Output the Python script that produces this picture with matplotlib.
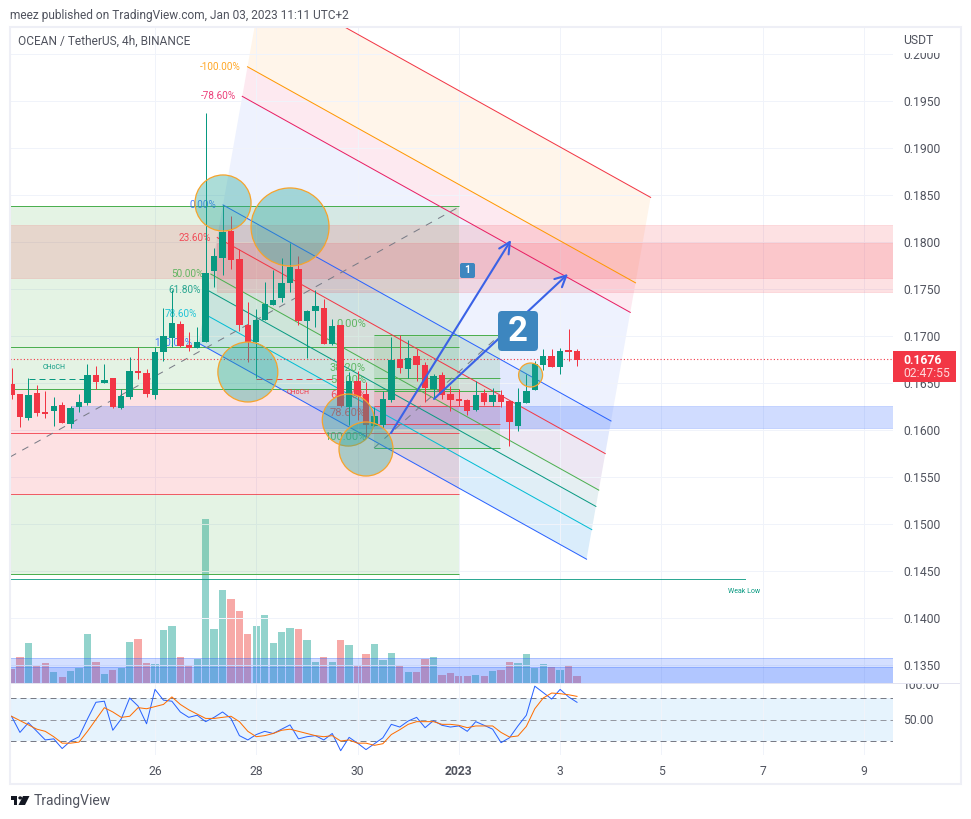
import matplotlib
matplotlib.use("Agg")
import matplotlib.pyplot as plt
from matplotlib.patches import Rectangle, Ellipse, Polygon, Circle, FancyBboxPatch
from matplotlib.transforms import IdentityTransform

# candles, 4h bars, bar 17 is Dec 26 00:00
opens = [.16489,.16383,.16124,.16393,.16188,.16206,.16266,.16068,.16248,.16291,.16585,.16504,.16553,.16238,.16355,.16628,.16606,
         .16376,.16833,.16979,.17128,.16904,.16876,.16936,.17692,.17830,.18117,.17819,.17117,.16936,.17170,.17330,.17404,.17564,
         .17713,.17160,.17266,.17298,.16915,.17117,.16248,.16521,.16383,.16043,.16053,.16319,.16755,.16649,.16787,.16692,.16436,
         .16585,.16383,.16330,.16319,.16213,.16394,.16298,.16372,.16309,.16043,.16287,.16426,.16692,.16787,.16670,.16851,.16840]
closes = [.16372,.16142,.16372,.16185,.16174,.16256,.16078,.16234,.16298,.16585,.16514,.16532,.16248,.16362,.16628,.16610,.16387,
          .16830,.17000,.17138,.16894,.16872,.16936,.17670,.17851,.18110,.17812,.17117,.16936,.17174,.17341,.17383,.17564,.17734,
          .17160,.17266,.17319,.16915,.17106,.16255,.16525,.16362,.16050,.16149,.16330,.16745,.16660,.16766,.16692,.16447,.16574,
          .16372,.16319,.16309,.16202,.16372,.16298,.16372,.16298,.16085,.16298,.16415,.16702,.16787,.16670,.16840,.16830,.16745]
highs = [.16656,.16383,.16549,.16478,.16415,.16348,.16298,.16256,.16383,.16702,.16681,.16702,.16553,.16433,.16777,.16883,.16649,
         .16883,.17298,.17490,.17160,.17043,.17096,.19372,.17936,.18394,.18277,.17926,.17362,.17287,.17575,.17702,.17830,.17989,
         .17851,.17277,.17490,.17394,.17177,.17117,.16621,.16624,.16514,.16248,.16415,.16993,.17011,.16957,.16862,.16723,.16596,
         .16617,.16468,.16436,.16330,.16521,.16436,.16447,.16426,.16319,.16447,.16596,.16734,.16862,.16862,.16872,.17074,.16862]
lows = [.16330,.16036,.16107,.16153,.16131,.16046,.16071,.16025,.16195,.16270,.16433,.16504,.16238,.16227,.16333,.16542,.16355,
        .16330,.16738,.16887,.16887,.16840,.16876,.16936,.17521,.17649,.17713,.17053,.16723,.16550,.17170,.17330,.17362,.17468,
        .17117,.16763,.17096,.16915,.16904,.16248,.16053,.16106,.15922,.16043,.16018,.16301,.16603,.16550,.16521,.16298,.16340,
        .16330,.16202,.16255,.16160,.16202,.16266,.16255,.16245,.15830,.15989,.16287,.16426,.16638,.16670,.16596,.16734,.16681]
volumes = [14,26,40,18,20,11,6,12,15,49,21,9,13,15,41,44,20,19,53,57,26,18,24,164,54,93,84,72,49,57,68,40,51,55,54,43,21,26,
           21,43,38,18,29,39,23,30,17,11,11,24,26,8,10,7,7,8,7,12,13,21,20,29,15,19,16,13,17,7]
rsi = [53,38,47,39,31,32,23,30,34,50.5,66,67,40,50.5,70,62.5,46,78,68,67,57,52,54,48,52,57,51,35,31,36,39,37,41,45,32,34,35,31,
       37,21,33.4,28,22,27.5,33,45.5,43,48.6,52,42.4,49,44.6,43,44,39,48,44.6,41,28.5,33,44,54,81,75,69,78,71,66]
rsi_ma = [53,49,45,41,39,34,28,28,29,39,50,61,57,52,53,61,60,62,64,71,64,59,55,51,51,52,53,48,39,34,35,37,40,41,39,37,35,34,
          35,30,31,28,28,26,27.5,36,40.5,45.5,48,48,48,45.5,45.5,44.6,42.4,44,44,44,38,33.7,34.7,43.6,60,70,74.6,74,73,71.5]

price_ticks = [.2000,.1950,.1900,.1850,.1800,.1750,.1700,.1650,.1600,.1550,.1500,.1450,.1400,.1350]
date_ticks = [17,29,41,53,65,77,89,101]
date_labels = ["26","28","30","2023","3","5","7","9"]
last_price = .1676

# fib channel
channel_levels = [-1.618,-1.0,-.786,0,.236,.5,.618,.786,1.0]
channel_line_colors = ["#f23645","#ff9800","#e91e63","#2962ff","#f23645","#4caf50","#089981","#00bcd4","#2962ff"]
channel_fill_colors = ["#fff5ea","#fde9f0","#eef2fe","#e2e9fd","#ede7f3","#e5eff2","#e0eef6","#daedfb"]
channel_left = (25.06,.18394)
channel_right = (71.03,.16096)
channel_step = (-2.9,-.0147)
channel_labels = ["-100.00%","-78.60%","0.00%","23.60%","50.00%","61.80%","78.60%","100.00%"]
channel_label_levels = [-1.0,-.786,0,.236,.5,.618,.786,1.0]
channel_label_colors = ["#ff9800","#e91e63","#2962ff","#f23645","#4caf50","#089981","#00bcd4","#2962ff"]

# position tool on the left
left_rect_end = 53
left_green_lines = [.18383,.16883,.16436,.14468]
left_red_lines = [.15968,.15319]

# second fib retracement
fib_x = (42.95,57.88)
fib_green_lines = [.17011,.16553,.16415,.15809]
fib_red_lines = [.16255,.16064]
fib_labels = ["0.00%","38.20%","50.00%","61.80%","78.60%","100.00%"]
fib_label_prices = [.17128,.16660,.16532,.16372,.16181,.15926]
fib_label_colors = ["#4caf50","#4caf50","#4caf50","#f23645","#f23645","#4caf50"]

circle_x = [25.06,33.0,28.0,39.9,42.0,61.5]
circle_price = [.18415,.18160,.16617,.16106,.15798,.16585]
circle_r = [3.32,4.62,3.55,3.08,3.2,1.42]

BAR_PX = 8.44
PRICE_PX = 9400
W, H = 971, 819
GREEN, RED = "#089981", "#f23645"
TXT = "#50535e"
GRID = "#f0f3fa"
THIN = .72  # one pixel at dpi 100

plt.rcParams["font.family"] = ["Roboto", "DejaVu Sans"]

fig = plt.figure(figsize=(W/100, H/100), dpi=100)

def fx(x):
    return x/W

def fy(y):
    return 1-y/H

def pane(x0, y0, x1, y1):
    return fig.add_axes([fx(x0), fy(y1), fx(x1)-fx(x0), fy(y0)-fy(y1)])

# volume sits under the price axes so the zones tint it
ax_vol = pane(10, 27, 893, 683)
ax = pane(10, 27, 893, 683)
ax_rsi = pane(10, 684, 893, 755)
ax.set_zorder(2)
ax_vol.set_zorder(1)
ax.patch.set_visible(False)

bars = list(range(len(opens)))
xlim = (-.18, 104.44)
for a in (ax, ax_vol, ax_rsi):
    a.set_xlim(*xlim)
    for s in a.spines.values():
        s.set_visible(False)

ax.set_ylim(.13309, .20287)
ax_vol.set_ylim(0, 656)
ax_vol.set_xticks([])
ax_vol.set_yticks([])
ax_rsi.set_ylim(17, 83)

# channel
def level_line(level):
    return ([channel_left[0]+channel_step[0]*level, channel_right[0]+channel_step[0]*level],
            [channel_left[1]+channel_step[1]*level, channel_right[1]+channel_step[1]*level])

for n in range(len(channel_levels)-1):
    xa, ya = level_line(channel_levels[n])
    xb, yb = level_line(channel_levels[n+1])
    ax.add_patch(Polygon([(xa[0],ya[0]),(xa[1],ya[1]),(xb[1],yb[1]),(xb[0],yb[0])],
                         closed=True, fc=channel_fill_colors[n], ec="none", zorder=1))
for level, col in zip(channel_levels, channel_line_colors):
    xs, ys = level_line(level)
    ax.plot(xs, ys, color=col, lw=THIN, zorder=2.6)
for lab, level, col in zip(channel_labels, channel_label_levels, channel_label_colors):
    xs, ys = level_line(level)
    ax.text(xs[0]-.8, ys[0], lab, color=col, fontsize=7.2, ha="right", va="center", zorder=3, alpha=.85)

# grid
ax.hlines(price_ticks, xlim[0], xlim[1], color=GRID, lw=THIN, zorder=1.5)
ax.vlines(date_ticks, .13309, .20287, color=GRID, lw=THIN, zorder=1.5)
ax_vol.vlines(date_ticks, 0, 656, color=GRID, lw=THIN, zorder=0)
ax_rsi.vlines(date_ticks, 17, 83, color=GRID, lw=THIN, zorder=2)

# position tool
frac = (left_rect_end-xlim[0])/(xlim[1]-xlim[0])
ax.axhspan(.16436, .18383, xmin=0, xmax=frac, fc="#4caf50", alpha=.15, ec="none", zorder=2)
ax.axhspan(.15319, .16436, xmin=0, xmax=frac, fc="#f23645", alpha=.15, ec="none", zorder=2)
ax.axhspan(.14468, .15319, xmin=0, xmax=frac, fc="#4caf50", alpha=.15, ec="none", zorder=2)
ax.hlines(left_green_lines, xlim[0], left_rect_end, color="#4caf50", lw=THIN, zorder=2.5)
ax.hlines(left_red_lines, xlim[0], left_rect_end, color="#f23645", lw=THIN, alpha=.8, zorder=2.5)

# supply zones
ax.add_patch(Rectangle((xlim[0],.17617), xlim[1]-xlim[0], .00564, fc="#f23645", alpha=.15, ec="#f23645", lw=.6, zorder=2.2))
ax.add_patch(Rectangle((24.3,.17468), xlim[1]-24.3, .00521, fc="#f23645", alpha=.15, ec="#f23645", lw=.6, zorder=2.2))
# demand zones
ax.add_patch(Rectangle((7.05,.16021), xlim[1]-7.05, .00234, fc="#2962ff", alpha=.22, ec="#2962ff", lw=.6, zorder=2.2))
ax.axhspan(.13309, .13574, fc="#2962ff", alpha=.2, ec="none", zorder=2.2)
ax.axhspan(.13309, .13479, fc="#2962ff", alpha=.2, ec="none", zorder=2.2)
ax.hlines([.13574,.13479], xlim[0], xlim[1], color="#2962ff", alpha=.25, lw=THIN, zorder=2.2)

# second fib
ax.add_patch(Rectangle((fib_x[0],.16415), fib_x[1]-fib_x[0], .00596, fc="#4caf50", alpha=.15, ec="none", zorder=2))
ax.add_patch(Rectangle((fib_x[0],.16064), fib_x[1]-fib_x[0], .00351, fc="#f23645", alpha=.15, ec="none", zorder=2))
ax.add_patch(Rectangle((fib_x[0],.15809), fib_x[1]-fib_x[0], .00255, fc="#4caf50", alpha=.15, ec="none", zorder=2))
ax.hlines(fib_green_lines, fib_x[0], fib_x[1], color="#4caf50", lw=THIN, zorder=2.5)
ax.hlines(fib_red_lines, fib_x[0], fib_x[1], color="#f23645", lw=THIN, alpha=.8, zorder=2.5)
for lab, p, col in zip(fib_labels, fib_label_prices, fib_label_colors):
    ax.text(42.0, p, lab, color=col, fontsize=8, ha="right", va="center", zorder=3, alpha=.85)

# dashed trend lines
ax.plot([xlim[0],53], [.15713,.18372], color="#787b86", lw=THIN, ls=(0,(7,7)), zorder=2.7)
ax.plot([42.95,57.88], [.15809,.17011], color="#787b86", lw=THIN, ls=(0,(7,7)), zorder=2.7)

# market structure labels
ax.plot([2.07,9.06], [.16543,.16543], color=GREEN, lw=THIN, ls=(0,(6,4)), zorder=2.7)
ax.plot([29,38.9], [.16543,.16543], color=RED, lw=THIN, ls=(0,(6,4)), zorder=2.7)
ax.text(5.03, .1667, "CHoCH", color=GREEN, fontsize=5, ha="center", va="center", zorder=3)
ax.text(33.9, .16404, "CHoCH", color=RED, fontsize=5, ha="center", va="center", zorder=3)
ax.plot([xlim[0],86.9], [.14415,.14415], color=GREEN, lw=THIN, zorder=2.7, alpha=.85)
ax.text(86.8, .14277, "Weak Low", color=GREEN, fontsize=5, ha="center", va="center", zorder=3)

# candles
for i in bars:
    col = GREEN if closes[i] >= opens[i] else RED
    ax.vlines(i, lows[i], highs[i], color=col, lw=THIN, zorder=4)
    ax.bar(i, abs(closes[i]-opens[i]), bottom=min(opens[i],closes[i]), width=.76, color=col, zorder=4)

# volume
vol_colors = ["#92d3cc" if closes[i] >= opens[i] else "#f7a9a7" for i in bars]
ax_vol.bar(bars, volumes, width=.86, color=vol_colors, zorder=1)

# circles
for cx, cp, r in zip(circle_x, circle_price, circle_r):
    ax.add_patch(Ellipse((cx,cp), 2*r, 2*r*BAR_PX/PRICE_PX, fc=(.149,.651,.604,.38), ec="#f7a32b", lw=.9, zorder=5))

# current price line
ax.axhline(last_price, color=RED, lw=.8, ls=(0,(1,2)), zorder=3)

# arrows
for start, end in [((44.96,.15968),(59.18,.18021)), ((50.06,.1633),(65.93,.1766))]:
    ax.annotate("", xy=end, xytext=start, zorder=6,
                arrowprops=dict(arrowstyle="->", color="#3a62e6", lw=1.5, mutation_scale=20, shrinkA=0, shrinkB=0))

# numbered notes, boxes in pixels so they stay square
ax.add_patch(FancyBboxPatch((460, H-278), 15, 15, boxstyle="round,pad=0,rounding_size=2", fc="#3d86bf", ec="none",
                            transform=IdentityTransform(), zorder=7))
ax.add_patch(FancyBboxPatch((498, H-351), 40, 40, boxstyle="round,pad=0,rounding_size=4", fc="#3d86bf", ec="none",
                            transform=IdentityTransform(), zorder=7))
ax.text(54.0, .17702, "1", color="white", fontsize=7.5, fontweight="bold", ha="center", va="center", zorder=8)
ax.text(60.0, .17053, "2", color="white", fontsize=25, fontweight="bold", ha="center", va="center", zorder=8)

# price axis
ax.set_xticks([])
ax.yaxis.tick_right()
ax.set_yticks(price_ticks)
ax.set_yticklabels(["%.4f" % p for p in price_ticks])
ax.tick_params(axis="y", length=0, pad=7.5, labelsize=8.7, labelcolor=TXT)

# rsi pane
ax_rsi.axhspan(30, 70, fc="#e6f3fd", ec="none", zorder=1)
ax_rsi.hlines([70,30], xlim[0], xlim[1], color="#787b86", lw=THIN, ls=(0,(6,4)), zorder=3)
ax_rsi.hlines([50], xlim[0], xlim[1], color="#9598a1", lw=THIN, ls=(0,(6,4)), zorder=3)
ax_rsi.plot(bars, rsi, color="#2962ff", lw=THIN, zorder=4)
ax_rsi.plot(bars, rsi_ma, color="#ff6d00", lw=THIN, zorder=5)
ax_rsi.yaxis.tick_right()
ax_rsi.set_yticks([83,50])
ax_rsi.set_yticklabels(["100.00","50.00"])
ax_rsi.tick_params(axis="y", length=0, pad=7.5, labelsize=8.7, labelcolor=TXT)
ax_rsi.set_xticks(date_ticks)
ax_rsi.set_xticklabels(date_labels)
ax_rsi.tick_params(axis="x", length=0, pad=7, labelsize=8.7, labelcolor=TXT)
ax_rsi.get_xticklabels()[3].set_fontweight("bold")

# chrome in figure pixels
def box(x0, y0, x1, y1, **kw):
    fig.add_artist(Rectangle((fx(x0),fy(y1)), fx(x1)-fx(x0), fy(y0)-fy(y1), transform=fig.transFigure, **kw))

box(894, 28, 958, 52.5, fc="white", ec="none", zorder=10)
box(894, 673, 958, 682.5, fc="white", ec="none", zorder=10)
box(10, 682.5, 961, 683.5, fc="#e3e3f0", ec="none", zorder=11)
box(9.5, 26.5, 961, 783.5, fc="none", ec="#eeeff6", lw=1.5, zorder=11)
box(893, 351, 956, 382, fc=RED, ec="none", zorder=12)
fig.text(fx(903), fy(360.5), "%.4f" % last_price, color="white", fontsize=8.7, fontweight="bold", va="center", zorder=13)
fig.text(fx(903), fy(374), "02:47:55", color="#ffd7da", fontsize=8.7, va="center", zorder=13)
fig.text(fx(903), fy(40), "USDT", color=TXT, fontsize=8.7, va="center", zorder=13)
fig.text(fx(10), fy(15), "meez published on TradingView.com, Jan 03, 2023 11:11 UTC+2", color=TXT, fontsize=8.6, va="center")
fig.text(fx(18), fy(41), "OCEAN / TetherUS, 4h, BINANCE", color=TXT, fontsize=8.6, va="center", zorder=13)

# logo
logo = "#131722"
box(10.5, 796, 17, 799.5, fc=logo, ec="none")
box(13.5, 796, 17, 805, fc=logo, ec="none")
fig.add_artist(Circle((fx(20.2), fy(797.9)), 1.9/W, transform=fig.transFigure, fc=logo, ec="none"))
fig.add_artist(Polygon([(fx(23),fy(796)),(fx(29.5),fy(796)),(fx(25),fy(805)),(fx(18.5),fy(805))],
                       closed=True, transform=fig.transFigure, fc=logo, ec="none"))
fig.text(fx(33.5), fy(801), "TradingView", color=TXT, fontsize=10, va="center")

fig.savefig("out.png", dpi=100)
